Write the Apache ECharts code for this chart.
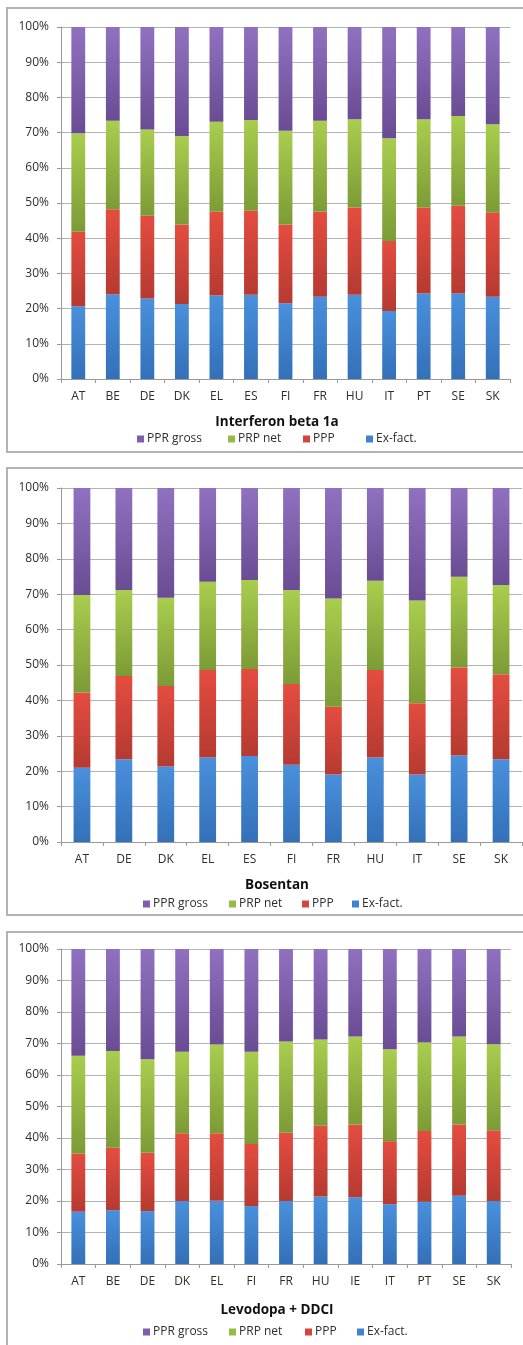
<!DOCTYPE html>
<html>
<head>
<meta charset="utf-8">
<script src="https://cdn.jsdelivr.net/npm/echarts@6/dist/echarts.min.js"></script>
<style>
  html, body { margin: 0; padding: 0; background: #fff; }
  #chart { width: 523px; height: 1345px; }
</style>
</head>
<body>
<div id="chart"></div>
<script>
// Price components as shares of the total (%), stacked bottom to top:
// Ex-fact., PPP, PRP net, PPR gross.
const seriesNames = ['Ex-fact.', 'PPP', 'PRP net', 'PPR gross'];
const legendOrder = ['PPR gross', 'PRP net', 'PPP', 'Ex-fact.'];
const yTicks = [0, 10, 20, 30, 40, 50, 60, 70, 80, 90, 100];

// Interferon beta 1a
const ifnTitle = 'Interferon beta 1a';
const ifnCountries = ['AT', 'BE', 'DE', 'DK', 'EL', 'ES', 'FI', 'FR', 'HU', 'IT', 'PT', 'SE', 'SK'];
const ifnExFact   = [20.7, 24.1, 22.9, 21.3, 23.7, 23.9, 21.5, 23.4, 23.9, 19.3, 24.3, 24.3, 23.4];
const ifnPPP      = [21.1, 24.1, 23.5, 22.6, 23.8, 23.9, 22.4, 24.1, 24.8, 19.9, 24.4, 24.9, 24.0];
const ifnPRPnet   = [28.0, 25.2, 24.5, 25.1, 25.6, 25.8, 26.6, 25.9, 25.1, 29.2, 25.1, 25.5, 25.0];
const ifnPPRgross = [30.2, 26.6, 29.1, 31.0, 26.9, 26.4, 29.5, 26.6, 26.2, 31.6, 26.2, 25.3, 27.6];

// Bosentan
const bosTitle = 'Bosentan';
const bosCountries = ['AT', 'DE', 'DK', 'EL', 'ES', 'FI', 'FR', 'HU', 'IT', 'SE', 'SK'];
const bosExFact   = [21.0, 23.4, 21.3, 23.9, 24.3, 21.8, 19.1, 23.9, 19.1, 24.4, 23.4];
const bosPPP      = [21.2, 23.5, 22.8, 24.7, 24.6, 22.8, 19.1, 24.7, 20.1, 24.9, 24.0];
const bosPRPnet   = [27.6, 24.3, 24.9, 24.9, 25.1, 26.6, 30.6, 25.2, 29.0, 25.6, 25.2];
const bosPPRgross = [30.2, 28.8, 31.0, 26.5, 26.0, 28.8, 31.2, 26.2, 31.8, 25.1, 27.4];

// Levodopa + DDCI
const levTitle = 'Levodopa + DDCI';
const levCountries = ['AT', 'BE', 'DE', 'DK', 'EL', 'FI', 'FR', 'HU', 'IE', 'IT', 'PT', 'SE', 'SK'];
const levExFact   = [16.6, 17.1, 16.8, 20.0, 20.1, 18.4, 20.0, 21.4, 21.2, 19.0, 19.8, 21.7, 20.0];
const levPPP      = [18.5, 19.8, 18.5, 21.5, 21.4, 19.7, 21.7, 22.5, 23.1, 20.0, 22.4, 22.6, 22.5];
const levPRPnet   = [31.0, 30.7, 29.7, 25.9, 28.2, 29.3, 28.9, 27.4, 27.9, 29.2, 28.1, 27.9, 27.3];
const levPPRgross = [33.9, 32.4, 35.0, 32.6, 30.3, 32.6, 29.4, 28.7, 27.8, 31.8, 29.7, 27.8, 30.2];

const chart = echarts.init(document.getElementById('chart'), null, { renderer: 'canvas' });

const grad = (top, bottom) => new echarts.graphic.LinearGradient(0, 0, 0, 1, [
  { offset: 0, color: top }, { offset: 1, color: bottom }
]);
const fills = {
  'Ex-fact.':  grad('#4a90dc', '#3370b8'),
  'PPP':       grad('#e54c40', '#b53a31'),
  'PRP net':   grad('#a9cd4e', '#7c9b36'),
  'PPR gross': grad('#8f71c0', '#6a4c94')
};
const legendColors = {
  'Ex-fact.': '#3f82d0', 'PPP': '#d4453b', 'PRP net': '#95bc45', 'PPR gross': '#7d5fae'
};

const FONT = '"Open Sans", "Liberation Sans", sans-serif';
const labelColor = '#2e2e2e';

// Panel layout; legendLeft holds the x of each legend swatch in legendOrder
const panels = [
  { title: ifnTitle, cats: ifnCountries, data: [ifnExFact, ifnPPP, ifnPRPnet, ifnPPRgross],
    frame: [7, 8, 530, 444], grid: { left: 61, top: 27, width: 449, height: 352 },
    titleTop: 410, legendTop: 433, legendLeft: [137, 228, 303, 366] },
  { title: bosTitle, cats: bosCountries, data: [bosExFact, bosPPP, bosPRPnet, bosPPRgross],
    frame: [7, 468, 530, 447], grid: { left: 61, top: 488, width: 461, height: 354 },
    titleTop: 873, legendTop: 898, legendLeft: [143, 229, 302, 352] },
  { title: levTitle, cats: levCountries, data: [levExFact, levPPP, levPRPnet, levPPRgross],
    frame: [7, 932, 530, 440], grid: { left: 61, top: 949, width: 450, height: 315 },
    titleTop: 1298, legendTop: 1326, legendLeft: [143, 229, 305, 357] }
];

const legends = [];
panels.forEach(p => {
  legendOrder.forEach((n, k) => {
    legends.push({
      data: [{ name: n, itemStyle: { color: legendColors[n] } }],
      left: p.legendLeft[k], top: p.legendTop,
      itemWidth: 7, itemHeight: 7, icon: 'rect', selectedMode: false, padding: 0,
      textStyle: { fontFamily: FONT, fontSize: 12, color: labelColor, padding: [0, 0, 0, -2] }
    });
  });
});

const option = {
  backgroundColor: '#fff',
  animation: false,
  textStyle: { fontFamily: FONT },
  grid: panels.map(p => Object.assign({ containLabel: false }, p.grid)),
  title: panels.map(p => ({
    text: p.title, left: 272, top: p.titleTop, textAlign: 'center',
    textStyle: { fontFamily: FONT, fontSize: 13.5, fontWeight: 'bold', color: '#111' }
  })),
  legend: legends,
  xAxis: panels.map((p, i) => ({
    type: 'category', gridIndex: i, data: p.cats,
    axisLine: { lineStyle: { color: '#999', width: 1 } },
    axisTick: { show: true, length: 4, lineStyle: { color: '#999' } },
    axisLabel: { margin: 12, fontFamily: FONT, fontSize: 12, color: labelColor }
  })),
  yAxis: panels.map((p, i) => ({
    type: 'value', gridIndex: i, min: yTicks[0], max: yTicks[yTicks.length - 1],
    interval: yTicks[1] - yTicks[0],
    axisLine: { show: true, lineStyle: { color: '#999', width: 1 } },
    axisTick: { show: true, length: 4, lineStyle: { color: '#999' } },
    splitLine: { lineStyle: { color: '#b3b3b3', width: 1.2 } },
    axisLabel: { margin: 12, fontFamily: FONT, fontSize: 12, color: labelColor,
                 formatter: v => v + '%' }
  })),
  series: [],
  graphic: panels.map(p => ({
    type: 'rect', silent: true, z: -1,
    shape: { x: p.frame[0], y: p.frame[1], width: p.frame[2], height: p.frame[3] },
    style: { fill: 'none', stroke: '#b4b4b4', lineWidth: 2 }
  }))
};

panels.forEach((p, i) => {
  seriesNames.forEach((name, k) => {
    option.series.push({
      type: 'bar', name, xAxisIndex: i, yAxisIndex: i, stack: 'total' + i,
      barWidth: '40%', data: p.data[k],
      itemStyle: { color: fills[name] }
    });
  });
});

chart.setOption(option);
</script>
</body>
</html>
